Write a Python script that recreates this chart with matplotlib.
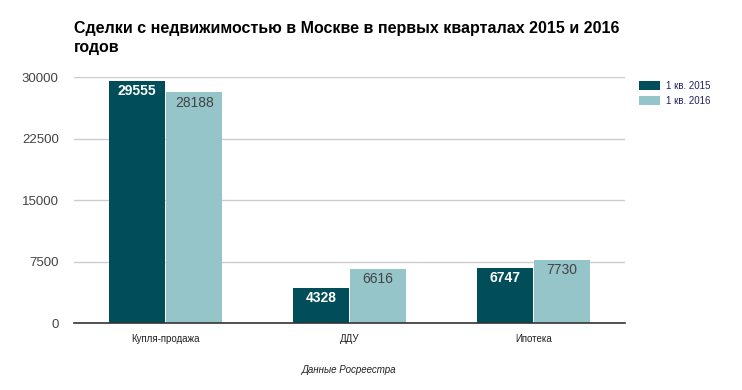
import matplotlib
matplotlib.use('Agg')
import matplotlib.pyplot as plt
import numpy as np

plt.rcParams['font.family'] = ['Liberation Sans', 'DejaVu Sans']

categories = ['Купля-продажа', 'ДДУ', 'Ипотека']
series_names = ['1 кв. 2015', '1 кв. 2016']
q1_2015 = [29555, 4328, 6747]
q1_2016 = [28188, 6616, 7730]
yticks = [0, 7500, 15000, 22500, 30000]

dark = '#014e5a'
light = '#95c4c9'

fig = plt.figure(figsize=(7.42, 3.9), dpi=100)
ax = fig.add_axes([74/742, 1 - 323/390, (625 - 74)/742, (323 - 77)/390])

x = np.arange(len(categories))
w = 0.305
b1 = ax.bar(x - w/2 - 0.003, q1_2015, w, color=dark, label=series_names[0])
b2 = ax.bar(x + w/2 + 0.003, q1_2016, w, color=light, label=series_names[1])

for rect, v in zip(b1, q1_2015):
    ax.text(rect.get_x() + rect.get_width()/2, v - 450, str(v), ha='center', va='top',
            color='white', fontsize=10, fontweight='bold')
for rect, v in zip(b2, q1_2016):
    ax.text(rect.get_x() + rect.get_width()/2, v - 450, str(v), ha='center', va='top',
            color='#444444', fontsize=10)

ax.set_xlim(-0.5, 2.5)
ax.set_ylim(0, 30000)
ax.set_yticks(yticks)
ax.set_yticklabels([str(t) for t in yticks], fontsize=9.5, color='#444444')
ax.set_xticks(x)
ax.set_xticklabels(categories, fontsize=7, color='#222222')
ax.tick_params(axis='both', length=0)
ax.tick_params(axis='y', pad=11)
ax.tick_params(axis='x', pad=8)
ax.grid(axis='y', color='#cccccc', linewidth=1)
ax.set_axisbelow(True)
for s in ['top', 'right', 'left']:
    ax.spines[s].set_visible(False)
ax.spines['bottom'].set_color('#333333')
ax.spines['bottom'].set_linewidth(1.2)

fig.text(74/742, 1 - 38/390, 'Сделки с недвижимостью в Москве в первых кварталах 2015 и 2016\nгодов',
         fontsize=11.5, fontweight='bold', ha='left', va='center', linespacing=1.4)

leg = fig.legend(handles=[b1, b2], labels=series_names, loc='upper left',
                 bbox_to_anchor=(630/742, 1 - 72/390), frameon=False, fontsize=7,
                 handlelength=2.2, handleheight=1.1, labelcolor='#222266', handletextpad=0.6,
                 labelspacing=0.55)

fig.text(349/742, 1 - 370/390, 'Данные Росреестра', fontsize=7, style='italic',
         ha='center', va='center', color='#222222')

fig.savefig('out.png', dpi=100)
